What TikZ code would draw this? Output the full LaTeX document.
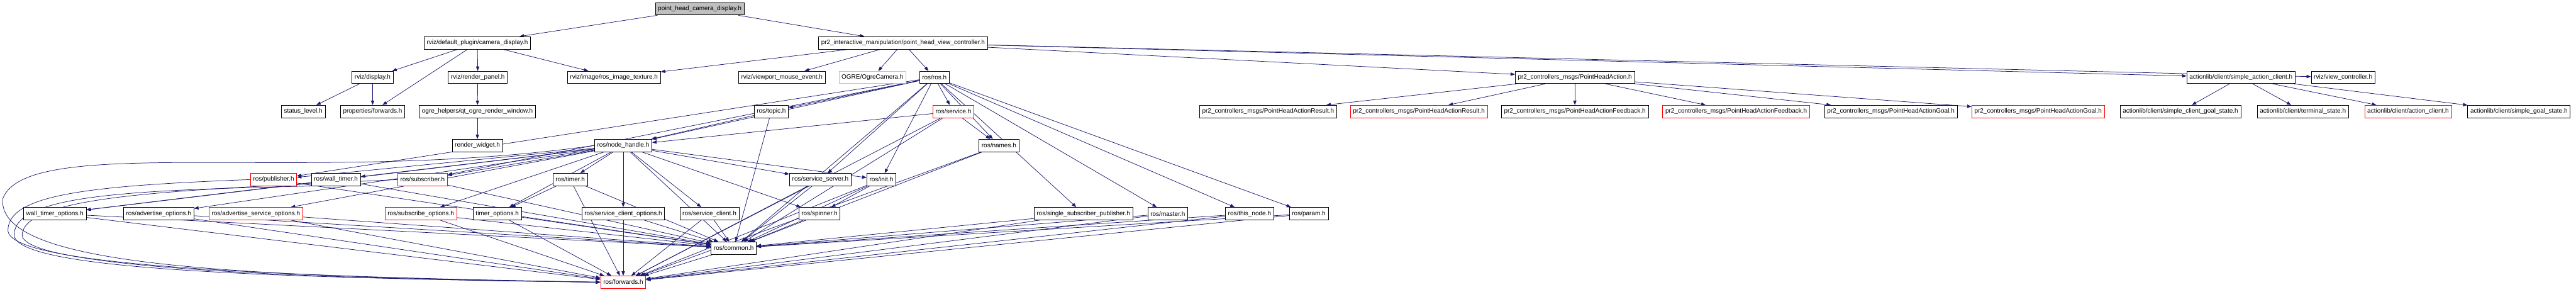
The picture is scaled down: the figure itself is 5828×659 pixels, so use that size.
\documentclass[tikz,border=0pt]{standalone}
\usepackage{fontspec}
\setmainfont{Liberation Sans}
\usepackage{tikz}
\usetikzlibrary{arrows.meta, backgrounds}
\definecolor{edgeblue}{RGB}{25,25,112}
\definecolor{boxred}{RGB}{255,0,0}
\definecolor{boxgray}{RGB}{191,191,191}
\tikzset{
  filebox/.style={rectangle, draw=black, fill=white, line width=0.7pt,
    minimum height=0.56cm, inner xsep=0.12cm, inner ysep=1pt,
    font=\fontsize{8.1}{9.7}\selectfont},
  redbox/.style={filebox, draw=boxred},
  extbox/.style={filebox, draw=boxgray},
  rootbox/.style={filebox, fill=boxgray},
  arrow/.style={-{Triangle[length=0.2cm,width=0.15cm]}, line width=0.6pt, color=edgeblue}
}

\begin{document}
\begin{tikzpicture}[x=0.02cm, y=-0.02cm]
  \useasboundingbox (0,0) rectangle (5828,659);

  % top rows
  \node[rootbox] (root) at (1583,20) {point\_head\_camera\_display.h};
  \node[filebox] (cam) at (1080,97) {rviz/default\_plugin/camera\_display.h};
  \node[filebox] (phvc) at (2043,97) {pr2\_interactive\_manipulation/point\_head\_view\_controller.h};

  \node[filebox] (disp) at (843,175) {rviz/display.h};
  \node[filebox] (rpanel) at (1081,175) {rviz/render\_panel.h};
  \node[filebox] (rit) at (1389,175) {rviz/image/ros\_image\_texture.h};
  \node[filebox] (vme) at (1769,175) {rviz/viewport\_mouse\_event.h};
  \node[extbox] (ogre) at (1974,175) {OGRE/OgreCamera.h};
  \node[filebox] (ros) at (2114,175) {ros/ros.h};
  \node[filebox] (pha) at (3563,175) {pr2\_controllers\_msgs/PointHeadAction.h};
  \node[filebox] (sac) at (5070,175) {actionlib/client/simple\_action\_client.h};
  \node[filebox] (vc) at (5301,175) {rviz/view\_controller.h};

  \node[filebox] (slevel) at (686,252) {status\_level.h};
  \node[filebox] (pfwd) at (843,252) {properties/forwards.h};
  \node[filebox] (qorw) at (1080,252) {ogre\_helpers/qt\_ogre\_render\_window.h};
  \node[filebox] (topic) at (1745,252) {ros/topic.h};
  \node[redbox] (service) at (2157,252) {ros/service.h};
  \node[filebox] (pharb) at (2869,252) {pr2\_controllers\_msgs/PointHeadActionResult.h};
  \node[redbox] (pharr) at (3210,252) {pr2\_controllers\_msgs/PointHeadActionResult.h};
  \node[filebox] (phafb) at (3563,252) {pr2\_controllers\_msgs/PointHeadActionFeedback.h};
  \node[redbox] (phafr) at (3928,252) {pr2\_controllers\_msgs/PointHeadActionFeedback.h};
  \node[filebox] (phagb) at (4278,252) {pr2\_controllers\_msgs/PointHeadActionGoal.h};
  \node[redbox] (phagr) at (4611,252) {pr2\_controllers\_msgs/PointHeadActionGoal.h};
  \node[filebox] (scgs) at (4933,252) {actionlib/client/simple\_client\_goal\_state.h};
  \node[filebox] (tstate) at (5210,252) {actionlib/client/terminal\_state.h};
  \node[redbox] (aclient) at (5448,252) {actionlib/client/action\_client.h};
  \node[filebox] (sgs) at (5699,252) {actionlib/client/simple\_goal\_state.h};

  % roscpp part
  \node[filebox] (rwidget) at (1080,329) {render\_widget.h};
  \node[filebox] (nh) at (1410,329) {ros/node\_handle.h};
  \node[filebox] (names) at (2260,329) {ros/names.h};

  \node[redbox] (pub) at (619,406) {ros/publisher.h};
  \node[filebox] (wtimer) at (760,406) {ros/wall\_timer.h};
  \node[redbox] (sub) at (956,406) {ros/subscriber.h};
  \node[filebox] (timer) at (1290,406) {ros/timer.h};
  \node[filebox] (ssrv) at (1856,406) {ros/service\_server.h};
  \node[filebox] (init) at (1994,406) {ros/init.h};

  \node[filebox] (wto) at (124,483) {wall\_timer\_options.h};
  \node[filebox] (ao) at (359,483) {ros/advertise\_options.h};
  \node[redbox] (aso) at (579,483) {ros/advertise\_service\_options.h};
  \node[redbox] (so) at (952,483) {ros/subscribe\_options.h};
  \node[filebox] (tmo) at (1125,483) {timer\_options.h};
  \node[filebox] (sco) at (1410,483) {ros/service\_client\_options.h};
  \node[filebox] (sc) at (1605,483) {ros/service\_client.h};
  \node[filebox] (spin) at (1854,483) {ros/spinner.h};
  \node[filebox] (ssp) at (2451,483) {ros/single\_subscriber\_publisher.h};
  \node[filebox] (master) at (2642,483) {ros/master.h};
  \node[filebox] (tnode) at (2827,483) {ros/this\_node.h};
  \node[filebox] (param) at (2961,483) {ros/param.h};

  \node[filebox] (common) at (1660,561) {ros/common.h};
  \node[redbox] (fwd) at (1410,638) {ros/forwards.h};

  \begin{scope}[on background layer]
    \path[arrow] (root) edge (cam) edge (phvc);
    \path[arrow] (cam) edge (disp) edge (pfwd) edge (rpanel) edge (rit);
    \path[arrow] (disp) edge (slevel) edge (pfwd);
    \path[arrow] (rpanel) edge (qorw);
    \path[arrow] (qorw) edge (rwidget);
    \path[arrow] (phvc) edge (rit) edge (vme) edge (ogre) edge (ros)
      edge (pha) edge (sac) edge (vc);
    \path[arrow] (pha) edge (pharb) edge (pharr) edge (phafb)
      edge (phafr) edge (phagb) edge (phagr);
    \path[arrow] (sac) edge (scgs) edge (tstate) edge (aclient) edge (sgs);

    \path[arrow] (ros) edge (nh) edge (topic) edge (service) edge (names)
      edge (pub) edge (sub) edge (ssrv) edge (init) edge (ssp)
      edge (master) edge (tnode) edge (param) edge (common);
    \path[arrow] (topic) edge (nh) edge (common);
    \path[arrow] (service) edge (nh) edge (names) edge (common) edge (fwd);
    \path[arrow] (names) edge (common) edge (fwd);
    \path[arrow] (nh) edge (pub) edge (wtimer) edge (sub) edge (timer)
      edge (ssrv) edge (init) edge (wto) edge (ao) edge (aso) edge (so)
      edge (tmo) edge (sco) edge (sc) edge (spin) edge (common);

    % long ways round the left side
    \draw[arrow] (nh.west) .. controls (700,420) and (60,300) .. (6,450)
      .. controls (-4,600) and (500,625) .. (fwd.west);
    \draw[arrow] (pub.west) .. controls (200,420) and (20,440) .. (18,520)
      .. controls (16,600) and (600,625) .. (fwd.west);
    \draw[arrow] (wtimer.south west) .. controls (300,430) and (35,440) .. (32,530)
      .. controls (30,610) and (600,628) .. (fwd.west);
    \draw[arrow] (sub.west) .. controls (400,430) and (60,440) .. (50,530)
      .. controls (45,600) and (600,630) .. (fwd.west);

    \path[arrow] (pub) edge (common);
    \path[arrow] (wtimer) edge (wto) edge (common);
    \path[arrow] (sub) edge (common);
    \path[arrow] (timer) edge (tmo) edge (common) edge (fwd);
    \path[arrow] (ssrv) edge (common) edge (fwd);
    \path[arrow] (init) edge (spin) edge (common) edge (fwd);
    \path[arrow] (spin) edge (common);
    \path[arrow] (wto) edge (common) edge (fwd);
    \path[arrow] (ao) edge (common) edge (fwd);
    \path[arrow] (aso) edge (common) edge (fwd);
    \path[arrow] (so) edge (common) edge (fwd);
    \path[arrow] (tmo) edge (common) edge (fwd);
    \path[arrow] (sco) edge (common) edge (fwd);
    \path[arrow] (sc) edge (common) edge (fwd);
    \path[arrow] (ssp) edge (common) edge (fwd);
    \path[arrow] (master) edge (common) edge (fwd);
    \path[arrow] (tnode) edge (common) edge (fwd);
    \path[arrow] (param) edge (common) edge (fwd);
    \path[arrow] (common) edge (fwd);
  \end{scope}
\end{tikzpicture}
\end{document}
